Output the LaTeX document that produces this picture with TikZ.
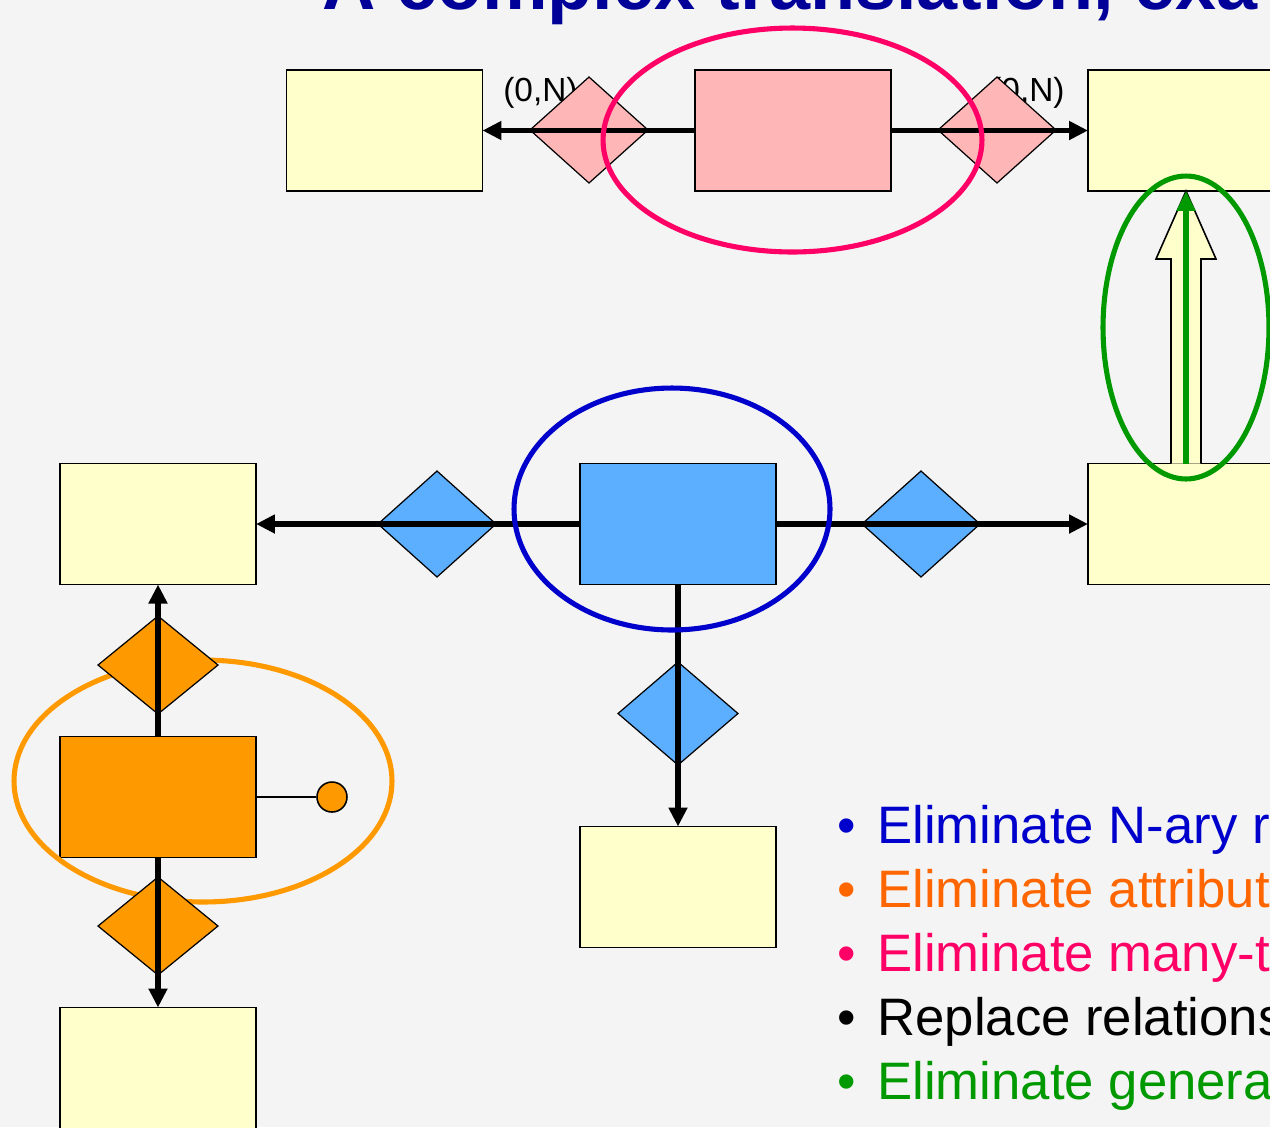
\documentclass[tikz,border=0pt]{standalone}
\usepackage{fontspec}
\setmainfont{Liberation Sans}
\usetikzlibrary{shapes.geometric,arrows.meta,calc}
\definecolor{bg}{HTML}{F4F4F4}
\definecolor{yel}{HTML}{FFFFCC}
\definecolor{pinkfill}{HTML}{FFB6B6}
\definecolor{bluefill}{HTML}{5CAFFF}
\definecolor{orfill}{HTML}{FF9900}
\definecolor{pinkline}{HTML}{FF0066}
\definecolor{blueline}{HTML}{0000CC}
\definecolor{greenline}{HTML}{009900}
\definecolor{titleblue}{HTML}{000099}
\definecolor{ortext}{HTML}{FF6600}
\begin{document}
\begin{tikzpicture}[x=0.02cm,y=-0.02cm,
  box/.style={draw=black,line width=0.9pt,minimum width=3.92cm,minimum height=2.42cm,inner sep=0pt,outer sep=0pt},
  dia/.style={diamond,draw=black,line width=0.7pt,inner sep=0pt,outer sep=0pt},
  conn/.style={line width=3.4pt,-{Triangle[length=0.38cm,width=0.36cm]}},
  ring/.style={line width=2.9pt},
  lbl/.style={inner sep=0pt,anchor=base west,font=\fontsize{19}{22}\selectfont},
  item/.style={inner sep=0pt,anchor=base west,font=\fontsize{30}{36}\selectfont},
  bul/.style={inner sep=0pt,anchor=base,font=\fontsize{30}{36}\selectfont}]
\useasboundingbox (0,0) rectangle (1270,1127);
\fill[bg] (0,0) rectangle (1270,1127);
\clip (0,0) rectangle (1270,1127);

% title
\node[inner sep=0pt,anchor=base west,text=titleblue,font=\bfseries\fontsize{42}{50}\selectfont] (title) at (322,9) {A complex translation, exa};

% labels
\node[lbl] (l1) at (503,101) {(0,N)};
\node[lbl] (l2) at (990,101) {(0,N)};

% boxes
\node[box,fill=yel] (t1) at (384.5,130.5) {};
\node[box,fill=pinkfill] (tp) at (793,130.5) {};
\node[box,fill=yel] (t2) at (1186,130.5) {};
\node[box,fill=yel] (m1) at (158,524) {};
\node[box,fill=bluefill] (mb) at (678,524) {};
\node[box,fill=yel] (m2) at (1186,524) {};
\node[box,fill=yel] (mbot) at (678,887) {};
\node[box,fill=orfill] (orb) at (158,797) {};
\node[box,fill=yel] (lb) at (158,1068) {};

% orange ellipse (behind diamonds)
\draw[ring,draw=orfill] (203,781) ellipse [x radius=3.78cm, y radius=2.42cm];

% diamonds
\node[dia,fill=pinkfill,minimum width=2.36cm,minimum height=2.12cm] (d1) at (589,130) {};
\node[dia,fill=pinkfill,minimum width=2.36cm,minimum height=2.12cm] (d2) at (997,130) {};
\node[dia,fill=bluefill,minimum width=2.36cm,minimum height=2.12cm] (d3) at (437,524) {};
\node[dia,fill=bluefill,minimum width=2.36cm,minimum height=2.12cm] (d4) at (921,524) {};
\node[dia,fill=bluefill,minimum width=2.4cm,minimum height=2.06cm] (d5) at (678,713.5) {};
\node[dia,fill=orfill,minimum width=2.4cm,minimum height=1.96cm] (d6) at (158,665) {};
\node[dia,fill=orfill,minimum width=2.4cm,minimum height=1.96cm] (d7) at (158,926) {};

% attribute
\node[circle,draw=black,fill=orfill,line width=0.9pt,minimum size=0.6cm,inner sep=0pt] (att) at (332,797) {};
\draw[line width=0.9pt] (orb.east) -- (att.west);

% connectors
\draw[conn] (tp.west) -- (t1.east);
\draw[conn] (tp.east) -- (t2.west);
\draw[conn] (mb.west) -- (m1.east);
\draw[conn] (mb.east) -- (m2.west);
\draw[conn,line width=3pt] (mb.south) -- (mbot.north);
\draw[conn] (orb.north) -- (m1.south);
\draw[conn] (orb.south) -- (lb.north);

% generalization block arrow
\draw[line width=0.9pt,fill=yel,line join=miter]
  ($(m2.north)+(-15,0)$) -- (1171,259) -- (1156,259) -- (t2.south) -- (1216,259) -- (1201,259) -- ($(m2.north)+(15,0)$);
\draw[line width=3.6pt,draw=greenline,-{Triangle[length=0.4cm,width=0.36cm]}] (m2.north) -- (t2.south);

% ellipses
\draw[ring,draw=pinkline] (792.5,140) ellipse [x radius=3.79cm, y radius=2.24cm];
\draw[ring,draw=blueline] (672,509) ellipse [x radius=3.16cm, y radius=2.42cm];
\draw[ring,draw=greenline] (1186,327.5) ellipse [x radius=1.66cm, y radius=3.03cm];

% bullet list
\node[bul,text=blueline] (p1) at (847,843) {•};
\node[item,text=blueline] (i1) at (877,843) {Eliminate N-ary r};
\node[bul,text=ortext] (p2) at (847,907) {•};
\node[item,text=ortext] (i2) at (877,907) {Eliminate attribut};
\node[bul,text=pinkline] (p3) at (847,971) {•};
\node[item,text=pinkline] (i3) at (877,971) {Eliminate many-t};
\node[bul,text=black] (p4) at (847,1035) {•};
\node[item,text=black] (i4) at (877,1035) {Replace relations};
\node[bul,text=greenline] (p5) at (847,1099) {•};
\node[item,text=greenline] (i5) at (877,1099) {Eliminate genera};
\end{tikzpicture}
\end{document}
